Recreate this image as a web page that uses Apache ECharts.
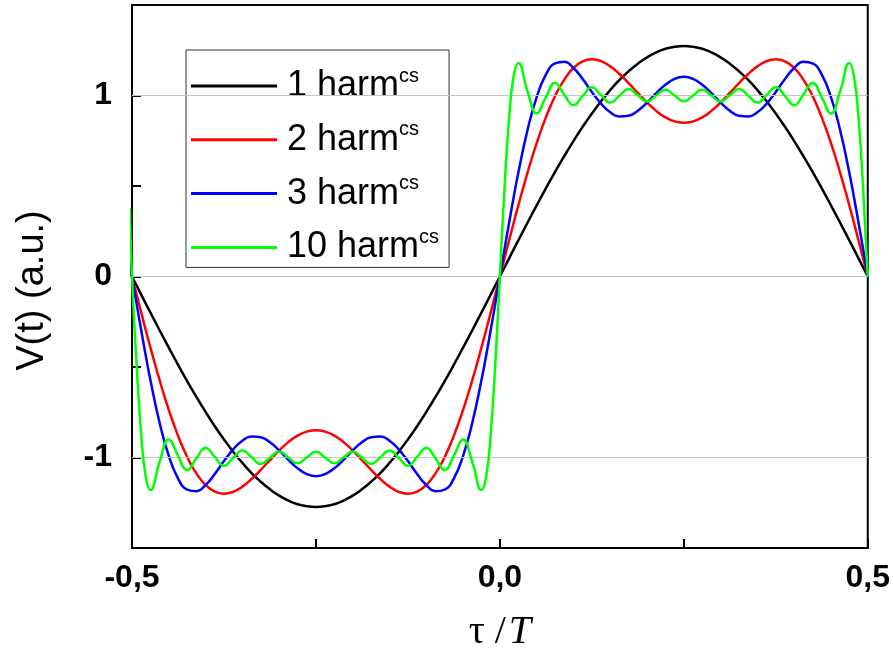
<!DOCTYPE html>
<html><head><meta charset="utf-8">
<script src="https://cdn.jsdelivr.net/npm/echarts/dist/echarts.min.js"></script>
<style>html,body{margin:0;padding:0;background:#fff}#c{width:893px;height:657px}</style>
</head><body><div id="c"></div>
<script>
// x positions (tau / T)
const tau = [-0.503, -0.5, -0.49375, -0.4875, -0.48125, -0.475, -0.4625, -0.45, -0.4375, -0.425, -0.4125, -0.4, -0.3875, -0.375, -0.3625, -0.35, -0.3375, -0.325, -0.3125, -0.3, -0.2875, -0.275, -0.2625, -0.25, -0.2375, -0.225, -0.2125, -0.2, -0.1875, -0.175, -0.1625, -0.15, -0.1375, -0.125, -0.1125, -0.1, -0.0875, -0.075, -0.0625, -0.05, -0.0375, -0.025, -0.01875, -0.0125, -0.00625,
  0, 0.00625, 0.0125, 0.01875, 0.025, 0.0375, 0.05, 0.0625, 0.075, 0.0875, 0.1, 0.1125, 0.125, 0.1375, 0.15, 0.1625, 0.175, 0.1875, 0.2, 0.2125, 0.225, 0.2375, 0.25, 0.2625, 0.275, 0.2875, 0.3, 0.3125, 0.325, 0.3375, 0.35, 0.3625, 0.375, 0.3875, 0.4, 0.4125, 0.425, 0.4375, 0.45, 0.4625, 0.475, 0.48125, 0.4875, 0.49375, 0.5];

// V(t) for 1 harmonic
const harm1 = [0.03,
  0, -0.050, -0.100, -0.150, -0.199, -0.297, -0.393, -0.487, -0.578, -0.665, -0.748, -0.827, -0.900, -0.968, -1.030, -1.086, -1.134, -1.176, -1.211, -1.238, -1.258, -1.269, -1.273, -1.269, -1.258, -1.238, -1.211, -1.176, -1.134, -1.086, -1.030, -0.968, -0.900, -0.827, -0.748, -0.665, -0.578, -0.487, -0.393, -0.297, -0.199, -0.150, -0.100, -0.050,
  0, 0.050, 0.100, 0.150, 0.199, 0.297, 0.393, 0.487, 0.578, 0.665, 0.748, 0.827, 0.900, 0.968, 1.030, 1.086, 1.134, 1.176, 1.211, 1.238, 1.258, 1.269, 1.273, 1.269, 1.258, 1.238, 1.211, 1.176, 1.134, 1.086, 1.030, 0.968, 0.900, 0.827, 0.748, 0.665, 0.578, 0.487, 0.393, 0.297, 0.199, 0.150, 0.100, 0.050, 0];

// V(t) for 2 harmonics
const harm2 = [0.06,
  0, -0.100, -0.199, -0.297, -0.392, -0.573, -0.737, -0.879, -0.997, -1.088, -1.152, -1.189, -1.200, -1.190, -1.161, -1.119, -1.068, -1.014, -0.961, -0.915, -0.879, -0.857, -0.849, -0.857, -0.879, -0.915, -0.961, -1.014, -1.068, -1.119, -1.161, -1.190, -1.200, -1.189, -1.152, -1.088, -0.997, -0.879, -0.737, -0.573, -0.392, -0.297, -0.199, -0.100,
  0, 0.100, 0.199, 0.297, 0.392, 0.573, 0.737, 0.879, 0.997, 1.088, 1.152, 1.189, 1.200, 1.190, 1.161, 1.119, 1.068, 1.014, 0.961, 0.915, 0.879, 0.857, 0.849, 0.857, 0.879, 0.915, 0.961, 1.014, 1.068, 1.119, 1.161, 1.190, 1.200, 1.189, 1.152, 1.088, 0.997, 0.879, 0.737, 0.573, 0.392, 0.297, 0.199, 0.100, 0];

// V(t) for 3 harmonics
const harm3 = [0.12,
  0, -0.150, -0.296, -0.438, -0.572, -0.808, -0.991, -1.115, -1.177, -1.186, -1.152, -1.091, -1.020, -0.955, -0.907, -0.884, -0.888, -0.916, -0.961, -1.013, -1.059, -1.092, -1.103, -1.092, -1.059, -1.013, -0.961, -0.916, -0.888, -0.884, -0.907, -0.955, -1.020, -1.091, -1.152, -1.186, -1.177, -1.115, -0.991, -0.808, -0.572, -0.438, -0.296, -0.150,
  0, 0.150, 0.296, 0.438, 0.572, 0.808, 0.991, 1.115, 1.177, 1.186, 1.152, 1.091, 1.020, 0.955, 0.907, 0.884, 0.888, 0.916, 0.961, 1.013, 1.059, 1.092, 1.103, 1.092, 1.059, 1.013, 0.961, 0.916, 0.888, 0.884, 0.907, 0.955, 1.020, 1.091, 1.152, 1.186, 1.177, 1.115, 0.991, 0.808, 0.572, 0.438, 0.296, 0.150, 0];

// V(t) for 10 harmonics
const harm10 = [0.38,
  0, -0.483, -0.873, -1.108, -1.180, -1.025, -0.901, -0.990, -1.069, -1.005, -0.946, -0.997, -1.045, -1.002, -0.961, -0.999, -1.036, -1.001, -0.967, -1.000, -1.032, -1.000, -0.968, -1.000, -1.032, -1.000, -0.967, -1.001, -1.036, -0.999, -0.961, -1.002, -1.045, -0.997, -0.946, -1.005, -1.069, -0.990, -0.901, -1.025, -1.180, -1.108, -0.873, -0.483,
  0, 0.483, 0.873, 1.108, 1.180, 1.025, 0.901, 0.990, 1.069, 1.005, 0.946, 0.997, 1.045, 1.002, 0.961, 0.999, 1.036, 1.001, 0.967, 1.000, 1.032, 1.000, 0.968, 1.000, 1.032, 1.000, 0.967, 1.001, 1.036, 0.999, 0.961, 1.002, 1.045, 0.997, 0.946, 1.005, 1.069, 0.990, 0.901, 1.025, 1.180, 1.108, 0.873, 0.483, 0];

const seriesNames = ['1 harm', '2 harm', '3 harm', '10 harm'];
const seriesColors = ['#000000', '#ff0000', '#0000ff', '#00ff00'];
const gridLineValues = [-1, 0, 1];

const values = [harm1, harm2, harm3, harm10];
const FONT = "'Liberation Sans', Arial, sans-serif";
const SERIF = "'Liberation Serif', 'DejaVu Serif', serif";
const chart = echarts.init(document.getElementById('c'), null, {renderer: 'canvas'});

const series = [{
  type: 'line', data: [], silent: true, z: 1,
  markLine: {
    silent: true, symbol: 'none', animation: false,
    label: {show: false},
    lineStyle: {color: '#c4c4c4', width: 1, type: 'solid'},
    data: gridLineValues.map(v => ({yAxis: v}))
  }
}];
seriesNames.forEach((n, k) => {
  series.push({
    type: 'line', name: n, smooth: true, symbol: 'none', clip: false, z: 2 + k,
    data: tau.map((x, i) => [x, values[k][i]]),
    lineStyle: {width: 2.5, color: seriesColors[k]},
    itemStyle: {color: seriesColors[k]}
  });
});

chart.setOption({
  animation: false,
  backgroundColor: '#fff',
  grid: {left: 132, right: 25, top: 5, bottom: 109, show: true, borderColor: '#000', borderWidth: 2},
  legend: {
    data: seriesNames, orient: 'vertical', left: 186, top: 50,
    icon: 'rect', itemWidth: 86, itemHeight: 3, itemGap: 15.8,
    padding: [16, 10, 2, 5],
    backgroundColor: '#fff', borderColor: '#333', borderWidth: 1,
    formatter: n => '{a|' + n + '}{b|cs}',
    textStyle: {
      color: '#000',
      rich: {
        a: {fontSize: 36, fontFamily: FONT, color: '#000', lineHeight: 40, padding: [0, 0, 0, 5]},
        b: {fontSize: 20, fontFamily: FONT, color: '#000', lineHeight: 8, verticalAlign: 'top'}
      }
    }
  },
  xAxis: {
    type: 'value', min: -0.5, max: 0.5, interval: 0.25,
    axisLine: {onZero: false, lineStyle: {color: '#000', width: 2}},
    axisTick: {inside: true, length: 9, lineStyle: {color: '#000', width: 2}},
    splitLine: {show: false},
    axisLabel: {
      color: '#000', fontSize: 32, fontWeight: 'bold', fontFamily: FONT, margin: 14,
      formatter: v => Math.abs(v * 2 - Math.round(v * 2)) < 1e-9 ? v.toFixed(1).replace('.', ',') : ''
    },
    name: '{t|τ /}{c|T}', nameLocation: 'middle', nameGap: 64,
    nameTextStyle: {
      rich: {
        t: {fontSize: 40, fontFamily: SERIF, color: '#000'},
        c: {fontSize: 40, fontFamily: SERIF, fontStyle: 'italic', color: '#000', padding: [0, 0, 0, 3]}
      }
    }
  },
  yAxis: {
    type: 'value', min: -1.5, max: 1.5, interval: 0.5,
    axisLine: {onZero: false, lineStyle: {color: '#000', width: 2}},
    axisTick: {inside: true, length: 9, lineStyle: {color: '#000', width: 2}},
    splitLine: {show: false},
    axisLabel: {
      color: '#000', fontSize: 32, fontWeight: 'bold', fontFamily: FONT, margin: 20,
      formatter: v => Math.abs(v - Math.round(v)) < 1e-9 ? String(Math.round(v)) : ''
    },
    name: 'V(t) (a.u.)', nameLocation: 'middle', nameGap: 80,
    nameTextStyle: {fontSize: 38, fontFamily: FONT, color: '#000', padding: [0, 28, 0, 0]}
  },
  series: series
});
</script>
</body></html>
